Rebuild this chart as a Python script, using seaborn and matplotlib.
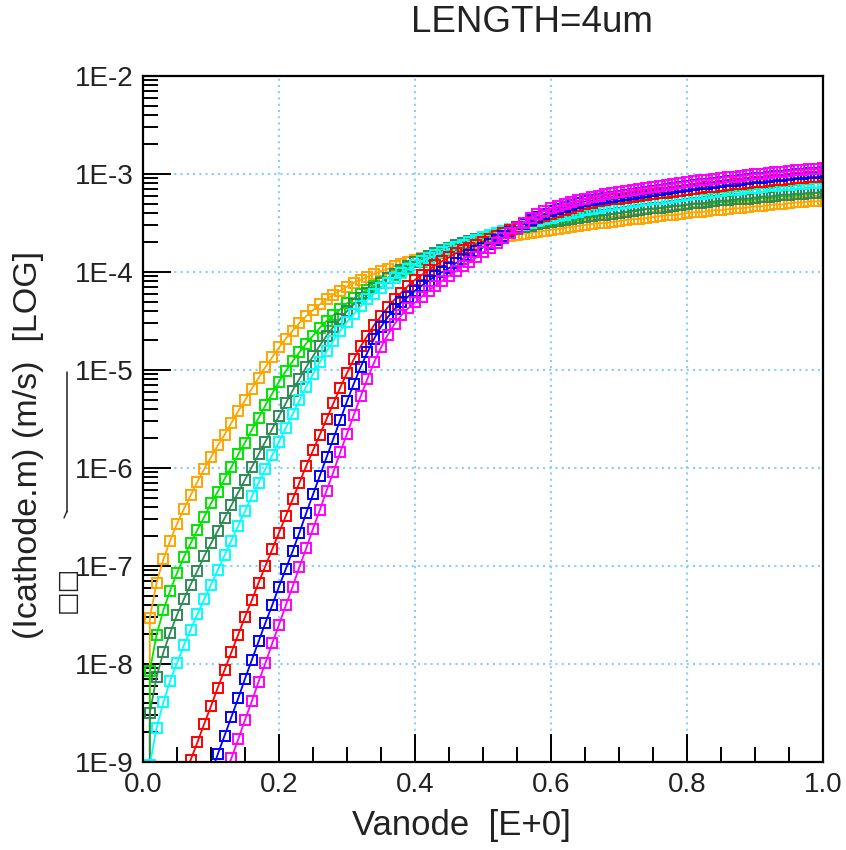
import numpy as np
import seaborn as sns
import matplotlib
matplotlib.use("Agg")
import matplotlib.pyplot as plt
from matplotlib.lines import Line2D
from matplotlib.ticker import FixedLocator, MultipleLocator, LogLocator, NullFormatter

# Vanode sweep: 0 .. 1 V in 0.01 V steps
vanode = np.round(np.linspace(0.0, 1.0, 101), 2)

# log10 of Icathode, one value per 0.01 V (nan = below the axis)
nan = np.nan
ninf = -np.inf

orange_exp = [ninf, -7.53, -7.17, -6.93, -6.74, -6.57, -6.42, -6.28, -6.14, -6.01,
              -5.89, -5.77, -5.66, -5.54, -5.42, -5.31, -5.19, -5.08, -4.97, -4.87,
              -4.77, -4.68, -4.60, -4.52, -4.45, -4.39, -4.33, -4.28, -4.23, -4.19,
              -4.15, -4.11, -4.08, -4.05, -4.02, -3.99, -3.97, -3.94, -3.92, -3.90,
              -3.88, -3.86, -3.84, -3.82, -3.80, -3.78, -3.76, -3.74, -3.72, -3.70,
              -3.68, -3.67, -3.66, -3.64, -3.63, -3.62, -3.61, -3.60, -3.59, -3.58,
              -3.57, -3.56, -3.55, -3.54, -3.53, -3.52, -3.51, -3.50, -3.50, -3.49,
              -3.48, -3.47, -3.46, -3.46, -3.45, -3.44, -3.43, -3.42, -3.42, -3.41,
              -3.40, -3.39, -3.39, -3.38, -3.37, -3.37, -3.36, -3.35, -3.35, -3.34,
              -3.33, -3.33, -3.32, -3.31, -3.31, -3.30, -3.29, -3.29, -3.28, -3.28,
              -3.27]

green_exp = [ninf, -8.07, -7.70, -7.45, -7.25, -7.07, -6.91, -6.77, -6.63, -6.50,
             -6.36, -6.24, -6.11, -5.99, -5.86, -5.74, -5.61, -5.49, -5.36, -5.24,
             -5.12, -5.01, -4.91, -4.82, -4.73, -4.65, -4.57, -4.50, -4.44, -4.38,
             -4.32, -4.27, -4.22, -4.18, -4.14, -4.10, -4.06, -4.03, -3.99, -3.96,
             -3.93, -3.90, -3.87, -3.84, -3.81, -3.78, -3.75, -3.73, -3.70, -3.68,
             -3.66, -3.64, -3.62, -3.60, -3.58, -3.56, -3.54, -3.52, -3.50, -3.49,
             -3.47, -3.46, -3.44, -3.43, -3.42, -3.40, -3.39, -3.38, -3.37, -3.36,
             -3.35, -3.34, -3.33, -3.32, -3.31, -3.31, -3.30, -3.29, -3.28, -3.28,
             -3.27, -3.26, -3.25, -3.25, -3.24, -3.23, -3.23, -3.22, -3.21, -3.21,
             -3.20, -3.19, -3.19, -3.18, -3.17, -3.17, -3.16, -3.15, -3.15, -3.14,
             -3.13]

darkgreen_exp = [ninf, -8.50, -8.13, -7.88, -7.68, -7.50, -7.34, -7.19, -7.05, -6.90,
                 -6.77, -6.64, -6.51, -6.38, -6.25, -6.12, -5.99, -5.86, -5.73, -5.60,
                 -5.47, -5.34, -5.21, -5.09, -4.97, -4.86, -4.75, -4.65, -4.56, -4.48,
                 -4.40, -4.33, -4.27, -4.21, -4.16, -4.11, -4.06, -4.02, -3.98, -3.94,
                 -3.90, -3.87, -3.84, -3.81, -3.78, -3.75, -3.72, -3.70, -3.68, -3.66,
                 -3.64, -3.62, -3.60, -3.59, -3.57, -3.56, -3.54, -3.53, -3.51, -3.50,
                 -3.49, -3.48, -3.47, -3.46, -3.45, -3.44, -3.43, -3.42, -3.42, -3.41,
                 -3.40, -3.39, -3.38, -3.37, -3.36, -3.35, -3.35, -3.34, -3.33, -3.32,
                 -3.31, -3.30, -3.30, -3.29, -3.28, -3.27, -3.27, -3.26, -3.25, -3.25,
                 -3.24, -3.23, -3.23, -3.22, -3.21, -3.21, -3.20, -3.20, -3.19, -3.19,
                 -3.18]

cyan_exp = [ninf, -9.03, -8.65, -8.39, -8.17, -7.99, -7.81, -7.65, -7.49, -7.34,
            -7.19, -7.04, -6.89, -6.74, -6.59, -6.44, -6.29, -6.15, -6.01, -5.87,
            -5.73, -5.59, -5.45, -5.31, -5.17, -5.04, -4.92, -4.81, -4.70, -4.60,
            -4.51, -4.43, -4.35, -4.28, -4.22, -4.16, -4.11, -4.06, -4.01, -3.97,
            -3.93, -3.89, -3.86, -3.83, -3.80, -3.77, -3.74, -3.72, -3.69, -3.67,
            -3.64, -3.62, -3.60, -3.58, -3.56, -3.54, -3.52, -3.50, -3.48, -3.46,
            -3.45, -3.43, -3.42, -3.40, -3.39, -3.37, -3.36, -3.35, -3.33, -3.32,
            -3.31, -3.30, -3.29, -3.28, -3.27, -3.26, -3.25, -3.24, -3.23, -3.22,
            -3.21, -3.20, -3.20, -3.19, -3.18, -3.17, -3.16, -3.16, -3.15, -3.14,
            -3.14, -3.13, -3.12, -3.12, -3.11, -3.11, -3.10, -3.10, -3.09, -3.09,
            -3.08]

red_exp = [nan, nan, nan, nan, nan, nan, -9.16, -8.98, -8.80, -8.61,
           -8.43, -8.24, -8.06, -7.88, -7.70, -7.52, -7.35, -7.17, -7.00, -6.83,
           -6.66, -6.49, -6.32, -6.15, -5.98, -5.82, -5.66, -5.50, -5.34, -5.18,
           -5.03, -4.89, -4.76, -4.65, -4.54, -4.45, -4.36, -4.28, -4.21, -4.14,
           -4.08, -4.03, -3.98, -3.93, -3.89, -3.85, -3.81, -3.78, -3.75, -3.72,
           -3.69, -3.66, -3.63, -3.60, -3.57, -3.54, -3.51, -3.48, -3.45, -3.43,
           -3.41, -3.39, -3.37, -3.35, -3.33, -3.31, -3.30, -3.28, -3.27, -3.26,
           -3.25, -3.24, -3.23, -3.22, -3.21, -3.20, -3.19, -3.19, -3.18, -3.17,
           -3.16, -3.15, -3.14, -3.13, -3.13, -3.12, -3.11, -3.10, -3.10, -3.09,
           -3.08, -3.08, -3.07, -3.06, -3.06, -3.05, -3.04, -3.04, -3.03, -3.03,
           -3.02]

blue_exp = [nan, nan, nan, nan, nan, nan, nan, nan, nan, nan,
            -9.12, -8.92, -8.73, -8.54, -8.35, -8.15, -7.96, -7.77, -7.58, -7.40,
            -7.21, -7.03, -6.85, -6.66, -6.46, -6.27, -6.08, -5.89, -5.70, -5.51,
            -5.32, -5.14, -4.97, -4.82, -4.68, -4.56, -4.46, -4.38, -4.31, -4.25,
            -4.19, -4.14, -4.09, -4.04, -4.00, -3.96, -3.91, -3.87, -3.83, -3.79,
            -3.75, -3.71, -3.67, -3.63, -3.59, -3.55, -3.51, -3.47, -3.44, -3.41,
            -3.38, -3.36, -3.34, -3.32, -3.30, -3.28, -3.27, -3.25, -3.24, -3.23,
            -3.22, -3.21, -3.20, -3.19, -3.18, -3.17, -3.16, -3.15, -3.14, -3.13,
            -3.12, -3.11, -3.10, -3.10, -3.09, -3.08, -3.07, -3.07, -3.06, -3.05,
            -3.04, -3.04, -3.03, -3.02, -3.02, -3.01, -3.00, -3.00, -2.99, -2.99,
            -2.98]

magenta_exp = [nan, nan, nan, nan, nan, nan, nan, nan, nan, nan,
               nan, nan, -9.15, -8.96, -8.77, -8.57, -8.38, -8.18, -7.99, -7.79,
               -7.60, -7.40, -7.21, -7.01, -6.82, -6.62, -6.43, -6.23, -6.04, -5.84,
               -5.65, -5.46, -5.27, -5.09, -4.92, -4.77, -4.64, -4.53, -4.44, -4.37,
               -4.31, -4.25, -4.19, -4.14, -4.09, -4.04, -3.99, -3.94, -3.90, -3.85,
               -3.80, -3.75, -3.70, -3.65, -3.60, -3.55, -3.50, -3.45, -3.41, -3.38,
               -3.35, -3.33, -3.31, -3.29, -3.27, -3.25, -3.23, -3.22, -3.20, -3.19,
               -3.18, -3.17, -3.16, -3.15, -3.14, -3.13, -3.12, -3.11, -3.10, -3.09,
               -3.08, -3.07, -3.06, -3.06, -3.05, -3.04, -3.03, -3.03, -3.02, -3.01,
               -3.00, -3.00, -2.99, -2.98, -2.98, -2.97, -2.96, -2.96, -2.95, -2.95,
               -2.94]

series = [
    (orange_exp, "#FFA500"),
    (green_exp, "#00E600"),
    (darkgreen_exp, "#2E8B57"),
    (cyan_exp, "#00FFFF"),
    (red_exp, "#FF0000"),
    (blue_exp, "#0000FF"),
    (magenta_exp, "#FF00FF"),
]

ytick_vals = [1e-9, 1e-8, 1e-7, 1e-6, 1e-5, 1e-4, 1e-3, 1e-2]
ytick_labels = ["1E-9", "1E-8", "1E-7", "1E-6", "1E-5", "1E-4", "1E-3", "1E-2"]
xtick_vals = [0.0, 0.2, 0.4, 0.6, 0.8, 1.0]
xtick_labels = ["0.0", "0.2", "0.4", "0.6", "0.8", "1.0"]

sns.set_theme(style="white")
plt.rcParams["font.family"] = ["Liberation Sans", "DejaVu Sans"]

W, H = 846, 850
fig = plt.figure(figsize=(W / 100, H / 100), dpi=100)
ax = fig.add_axes([143 / W, 88 / H, 680 / W, 686 / H])

for exps, col in series:
    current = np.power(10.0, np.array(exps, dtype=float))
    sns.lineplot(x=vanode, y=current, ax=ax, color=col, marker="s",
                 markersize=7, markerfacecolor="none", markeredgecolor=col,
                 markeredgewidth=1.4, linewidth=1.3, sort=False)

ax.set_yscale("log", nonpositive="clip")
ax.set_xlim(0, 1)
ax.set_ylim(1e-9, 1e-2)

ax.yaxis.set_major_locator(FixedLocator(ytick_vals))
ax.set_yticklabels(ytick_labels)
ax.yaxis.set_minor_locator(LogLocator(base=10, subs=np.arange(2, 10)))
ax.yaxis.set_minor_formatter(NullFormatter())
ax.set_xticks(xtick_vals)
ax.set_xticklabels(xtick_labels)
ax.xaxis.set_minor_locator(MultipleLocator(0.05))

ax.tick_params(which="both", direction="in", left=True, bottom=True,
               top=False, right=False, colors="black", labelcolor="#222222")
ax.tick_params(which="major", length=20, width=1.4, labelsize=20, pad=7)
ax.tick_params(which="minor", length=11, width=1.4)

ax.grid(which="major", color="#87CEFA", linestyle=(0, (1, 2)), linewidth=1.5)
ax.grid(which="minor", visible=False)
for sp in ax.spines.values():
    sp.set_color("black")
    sp.set_linewidth(1.6)

ax.set_xlabel("Vanode  [E+0]", fontsize=25, color="#222222")
ax.set_ylabel("(Icathode.m) (m/s)  [LOG]", fontsize=24.5, color="#222222")
ax.xaxis.set_label_coords(0.469, -0.068)
ax.yaxis.set_label_coords(-0.145, 0.462)

fig.text(532 / W, 1 - 22 / H, "LENGTH=4um", ha="center", va="center",
         fontsize=26.5, color="#222222")

# stray glyphs beside the y label
fig.text(67 / W, 1 - 589 / H, "□□", rotation=90, ha="center", va="center",
         fontsize=18, color="#222222",
         family=["DejaVu Sans"])
fig.add_artist(Line2D([67 / W, 67 / W], [1 - 372 / H, 1 - 512 / H],
                      color="#222222", linewidth=1.1))
fig.add_artist(Line2D([64 / W, 67 / W], [1 - 518 / H, 1 - 511 / H],
                      color="#222222", linewidth=1.0))

fig.savefig("out.png", dpi=100)
